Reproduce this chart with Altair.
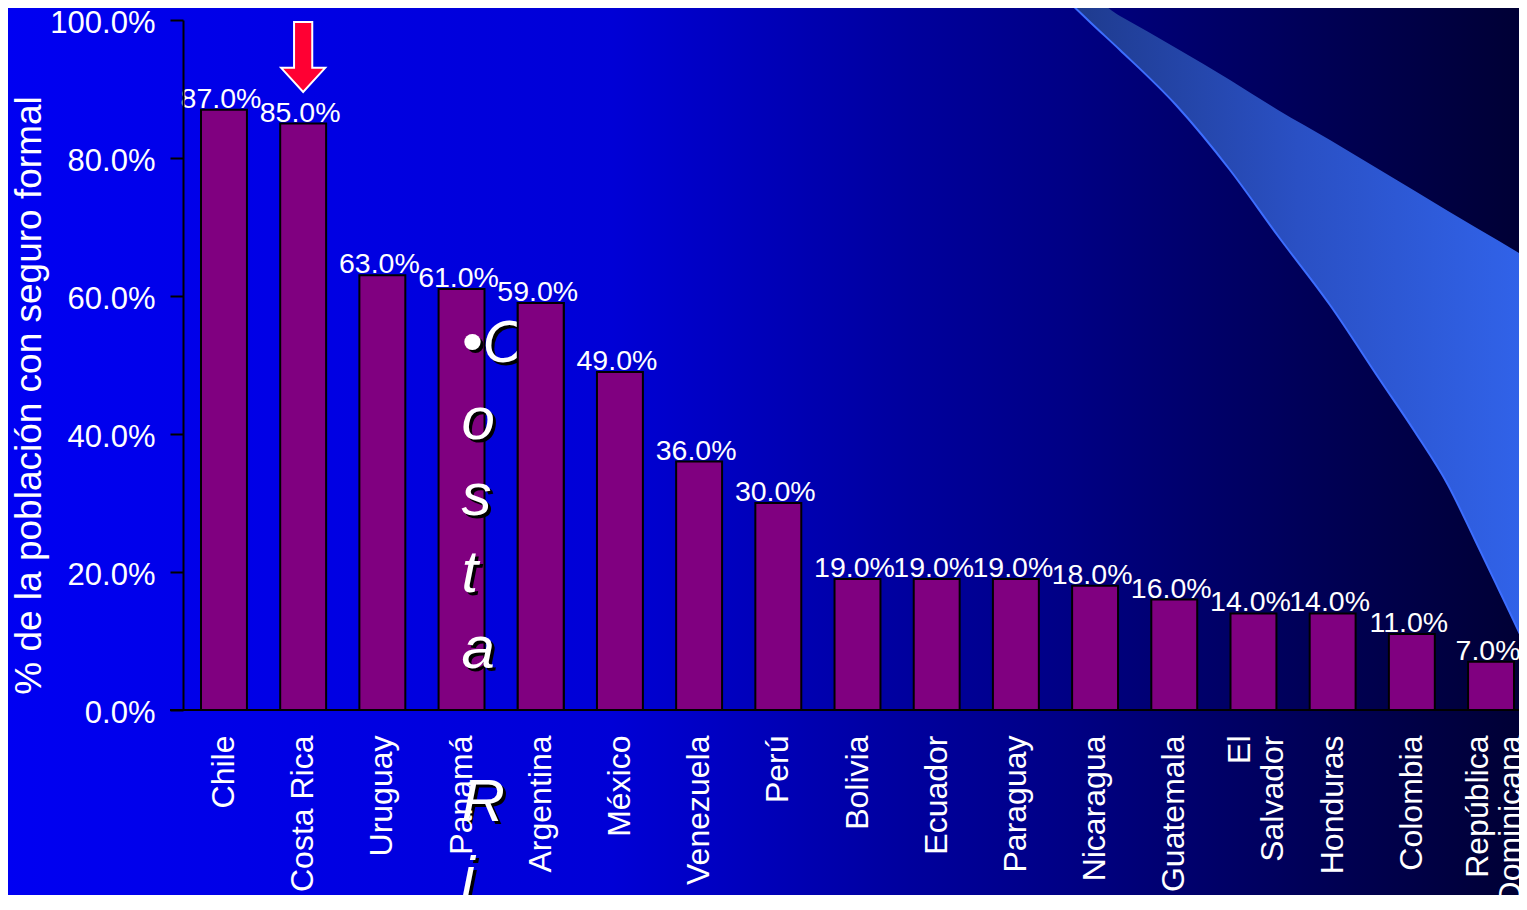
import altair as alt
import pandas as pd

# ---------------- data ----------------
countries = ["Chile", "Costa Rica", "Uruguay", "Panamá", "Argentina", "México",
             "Venezuela", "Perú", "Bolivia", "Ecuador", "Paraguay", "Nicaragua",
             "Guatemala", "El Salvador", "Honduras", "Colombia", "República Dominicana"]
coverage = [0.87, 0.85, 0.63, 0.61, 0.59, 0.49, 0.36, 0.30, 0.19, 0.19, 0.19,
            0.18, 0.16, 0.14, 0.14, 0.11, 0.07]
y_ticks = [0.0, 0.2, 0.4, 0.6, 0.8, 1.0]
y_title = "% de la población con seguro formal"
highlight = "Costa Rica"
stray_word1 = ["•C", "o", "s", "t", "a"]
stray_word2 = ["R", "i", "c", "a"]
stray_anchor = "Panamá"
front_bar = "Argentina"
two_line = {"El Salvador": ["El", "Salvador"],
            "República Dominicana": ["República", "Dominicana"]}

# decorative swoosh outline (screen-like units of the slide)
swoosh_x = [1067, 1091, 1120, 1176, 1230, 1278, 1330, 1380, 1415, 1448, 1475, 1499, 1519, 1530]
swoosh_top = [0, 0, 16, 48, 80, 110, 140, 170, 191, 211, 227, 241, 253, 260]
swoosh_bottom = [0, 23, 50, 105, 170, 236, 305, 380, 432, 485, 540, 590, 632, 655]

W, H = 1313, 690
FONT = "Liberation Sans"

df = pd.DataFrame({"country": countries, "coverage": coverage})
one = pd.DataFrame({"k": [0]})

# ---------------- background ----------------
bg_grad = alt.LinearGradient(
    gradient="linear", x1=0, x2=1, y1=0, y2=0,
    stops=[alt.GradientStop(color="#0000f2", offset=0),
           alt.GradientStop(color="#0000d6", offset=0.40),
           alt.GradientStop(color="#00009c", offset=0.60),
           alt.GradientStop(color="#000085", offset=0.70),
           alt.GradientStop(color="#00006a", offset=0.79),
           alt.GradientStop(color="#000050", offset=0.89),
           alt.GradientStop(color="#000035", offset=1.0)])
bg = alt.Chart(one).mark_rect(fill=bg_grad).encode(
    x=alt.value(-193), x2=alt.value(W + 5), y=alt.value(-12), y2=alt.value(H + 200))

sw_df = pd.DataFrame({"sx": swoosh_x, "top": swoosh_top, "bottom": swoosh_bottom})
sw_grad = alt.LinearGradient(
    gradient="linear", x1=0, x2=1, y1=0, y2=0,
    stops=[alt.GradientStop(color="#1e3a8c", offset=0),
           alt.GradientStop(color="#2a50c4", offset=0.5),
           alt.GradientStop(color="#3163ea", offset=1.0)])
sx = alt.X("sx:Q", scale=alt.Scale(domain=[201, 1514], nice=False, zero=False), axis=None)
sy_scale = alt.Scale(domain=[20, 710], reverse=True, nice=False, zero=False)
sw_area = alt.Chart(sw_df).mark_area(fill=sw_grad, interpolate="monotone").encode(
    x=sx, y=alt.Y("top:Q", scale=sy_scale, axis=None), y2="bottom:Q")
sw_line = alt.Chart(sw_df).mark_line(color="#3d6eff", strokeWidth=2, interpolate="monotone").encode(
    x=sx, y=alt.Y("bottom:Q", scale=sy_scale, axis=None))
swoosh = alt.layer(sw_area, sw_line)

# ---------------- main chart ----------------
label_expr = " : ".join(
    [f"datum.label == '{k}' ? ['{v[0]}', '{v[1]}']" for k, v in two_line.items()]
) + " : datum.label"
two_test = " || ".join([f"datum.value == '{k}'" for k in two_line])

x_enc = alt.X("country:N", sort=countries, title=None,
              scale=alt.Scale(paddingInner=0.42, paddingOuter=0),
              axis=alt.Axis(domain=False, ticks=False, labelAngle=-90, labelAlign="right",
                            labelBaseline="middle", labelColor="white", labelFontSize=32,
                            labelFont=FONT, labelPadding=25, labelLimit=0,
                            labelOverlap=False, labelLineHeight=33, labelExpr=label_expr,
                            labelOffset={"condition": {"test": two_test, "value": -13},
                                         "value": 0},
                            zindex=2))
y_enc = alt.Y("coverage:Q", scale=alt.Scale(domain=[0, 1], nice=False),
              axis=alt.Axis(values=y_ticks, format=".1%", grid=False, offset=18,
                            domainColor="black", domainWidth=2, tickColor="black",
                            tickWidth=2, tickSize=13, labelColor="white", labelFontSize=31,
                            labelFont=FONT, labelPadding=15, labelOffset=3,
                            title=y_title, titleColor="white", titleFontSize=37,
                            titleFont=FONT, titleFontWeight="normal", titleAngle=270,
                            titleAlign="center", titleBaseline="middle",
                            titleX=-154, titleY=375, zindex=2))

bars = alt.Chart(df).mark_bar(color="#800080", stroke="black", strokeWidth=2).encode(
    x=x_enc, y=y_enc)
bars_front = alt.Chart(df).transform_filter(
    alt.datum.country == front_bar
).mark_bar(color="#800080", stroke="black", strokeWidth=2).encode(
    x=alt.X("country:N", sort=countries), y="coverage:Q")
labels = alt.Chart(df).mark_text(baseline="alphabetic", dy=-2, dx=-3, color="white",
                                  fontSize=28.5, font=FONT).encode(
    x=alt.X("country:N", sort=countries),
    y="coverage:Q",
    text=alt.Text("coverage:Q", format=".1%"))
axis_line = alt.Chart(one).mark_rule(color="black", strokeWidth=2).encode(
    x=alt.value(-31), x2=alt.value(W + 10), y=alt.value(H))

LH = 76.5
stray_df = pd.DataFrame({"country": [stray_anchor, stray_anchor],
                         "t": ["\n".join(stray_word1), "\n".join(stray_word2)],
                         "line0": [0, len(stray_word1) + 1]})
stray_common = dict(align="left", baseline="alphabetic", lineBreak="\n", lineHeight=LH,
                    font=FONT, fontStyle="italic", fontSize=60)


def stray_layer(color, shift):
    return alt.Chart(stray_df).transform_calculate(
        py=f"342 + {LH} * datum.line0 + {shift}"
    ).mark_text(color=color, dx=shift, **stray_common).encode(
        x=alt.X("country:N", sort=countries),
        y=alt.Y("py:Q", scale=None),
        text="t:N")


stray_shadow = stray_layer("black", 3)
stray_text = stray_layer("white", 0)

arrow_path = "M -0.26 -1 L 0.26 -1 L 0.26 0.31 L 0.63 0.31 L 0 1 L -0.63 0.31 L -0.26 0.31 Z"
arrow = alt.Chart(pd.DataFrame({"country": [highlight]})).mark_point(
    shape=arrow_path, size=4900, filled=True, fill="#ff0033", stroke="white",
    strokeWidth=2, opacity=1).encode(
    x=alt.X("country:N", sort=countries), y=alt.value(37))

main = alt.layer(bars, axis_line, labels, stray_shadow, stray_text, bars_front, arrow)

chart = alt.layer(bg, swoosh, main).resolve_scale(
    x="independent", y="independent"
).properties(
    width=W, height=H,
    padding={"left": 193, "top": 12, "right": 5, "bottom": 185},
    autosize=alt.AutoSizeParams(type="none"),
    background="#000080",
).configure_view(stroke=None).configure(font=FONT)

chart.save("out.html", embed_options={"renderer": "svg", "actions": False})
